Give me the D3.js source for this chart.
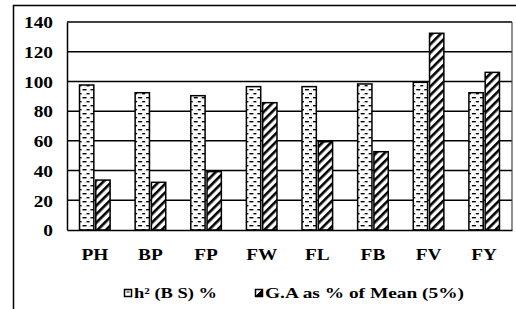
<!DOCTYPE html>
<html>
<head>
<meta charset="utf-8">
<script src="https://cdn.jsdelivr.net/npm/d3@7"></script>
<style>
  body { margin: 0; background: #fff; }
</style>
</head>
<body>
<div id="chart"></div>
<script>
var categories = ["PH", "BP", "FP", "FW", "FL", "FB", "FV", "FY"];
var seriesNames = ["h\u00B2 (B S) %", "G.A as % of Mean (5%)"];
var heritability = [97.6, 92.4, 90.4, 96.5, 96.5, 98.3, 99.4, 92.4];
var geneticAdvance = [33.6, 32.1, 39.3, 85.7, 59.4, 52.7, 132.4, 106.1];
var yTicks = [0, 20, 40, 60, 80, 100, 120, 140];

(function () {
    var width = 516,
        height = 309;
    var margin = {left: 67, right: 4, top: 22, bottom: 79};
    var serif = "'Liberation Serif', 'Times New Roman', serif";
    var stretch = 1.17;

    var svg = d3.select("#chart").append("svg")
        .attr("width", width)
        .attr("height", height);

    var defs = svg.append("defs");

    // dashed horizontal pattern for h2
    var p1 = defs.append("pattern")
        .attr("id", "dashes")
        .attr("patternUnits", "userSpaceOnUse")
        .attr("width", 8).attr("height", 8);
    p1.append("rect").attr("width", 8).attr("height", 8).attr("fill", "#fff");
    p1.append("rect").attr("x", 3).attr("y", 1).attr("width", 4).attr("height", 1.4).attr("fill", "#000");
    p1.append("rect").attr("x", -1).attr("y", 5).attr("width", 3).attr("height", 1.4).attr("fill", "#000");
    p1.append("rect").attr("x", 7).attr("y", 5).attr("width", 1).attr("height", 1.4).attr("fill", "#000");
    p1.append("rect").attr("x", 1).attr("y", 2.5).attr("width", 1).attr("height", 1).attr("fill", "#bbb");
    p1.append("rect").attr("x", 5).attr("y", 6.5).attr("width", 1).attr("height", 1).attr("fill", "#bbb");

    // wide upward diagonal for G.A
    var p2 = defs.append("pattern")
        .attr("id", "diag")
        .attr("patternUnits", "userSpaceOnUse")
        .attr("width", 6).attr("height", 6)
        .attr("patternTransform", "rotate(45)");
    p2.append("rect").attr("width", 6).attr("height", 6).attr("fill", "#fff");
    p2.append("rect").attr("x", 0).attr("y", 0).attr("width", 2.6).attr("height", 6).attr("fill", "#000");

    // outer frame
    svg.append("rect")
        .attr("x", 13.5).attr("y", 5.5)
        .attr("width", 520).attr("height", 320)
        .attr("fill", "none")
        .attr("stroke", "#000")
        .attr("stroke-width", 1.5);

    var x0 = d3.scaleBand()
        .domain(categories)
        .range([margin.left, width - margin.right])
        .paddingInner(0.45)
        .paddingOuter(0.225);

    var x1 = d3.scaleBand()
        .domain([0, 1])
        .range([0, x0.bandwidth()])
        .paddingInner(0.12);

    var y = d3.scaleLinear()
        .domain([0, 140])
        .range([height - margin.bottom, margin.top]);

    // gridlines
    svg.append("g").selectAll("line")
        .data(yTicks.filter(function (d) { return d > 0; }))
        .enter().append("line")
        .attr("x1", margin.left).attr("x2", width - margin.right)
        .attr("y1", function (d) { return y(d); })
        .attr("y2", function (d) { return y(d); })
        .attr("stroke", "#000")
        .attr("stroke-width", 1.5);

    // right border of plot
    svg.append("line")
        .attr("x1", width - margin.right).attr("x2", width - margin.right)
        .attr("y1", y(140)).attr("y2", y(0))
        .attr("stroke", "#444").attr("stroke-width", 1.2);

    var groups = svg.append("g").selectAll("g")
        .data(categories)
        .enter().append("g")
        .attr("transform", function (d) { return "translate(" + x0(d) + ",0)"; });

    var fills = ["url(#dashes)", "url(#diag)"];
    groups.selectAll("rect")
        .data(function (d, i) { return [heritability[i], geneticAdvance[i]]; })
        .enter().append("rect")
        .attr("x", function (d, j) { return x1(j); })
        .attr("width", x1.bandwidth())
        .attr("y", function (d) { return y(d); })
        .attr("height", function (d) { return y(0) - y(d); })
        .attr("fill", function (d, j) { return fills[j]; })
        .attr("stroke", "#000")
        .attr("stroke-width", 1.5);

    // widen the glyphs a little, the original is stretched sideways
    function widen(sel) {
        sel.each(function () {
            var w = this.getComputedTextLength();
            d3.select(this)
                .attr("textLength", w * stretch)
                .attr("lengthAdjust", "spacingAndGlyphs");
        });
    }

    // axes
    var yAxis = svg.append("g")
        .attr("transform", "translate(" + margin.left + ",0)")
        .call(d3.axisLeft(y).tickValues(yTicks).tickSize(0).tickPadding(14));
    yAxis.attr("font-family", null);
    yAxis.select(".domain").attr("stroke", "#000").attr("stroke-width", 1.5);
    yAxis.selectAll("text")
        .style("font-family", serif)
        .style("font-weight", "bold")
        .style("font-size", "16.5px")
        .attr("fill", "#000")
        .attr("dy", "0.35em")
        .call(widen);

    var xAxis = svg.append("g")
        .attr("transform", "translate(0," + y(0) + ")")
        .call(d3.axisBottom(x0).tickSize(0).tickPadding(18));
    xAxis.attr("font-family", null);
    xAxis.select(".domain").attr("stroke", "#000").attr("stroke-width", 1.5);
    xAxis.selectAll("text")
        .style("font-family", serif)
        .style("font-weight", "bold")
        .style("font-size", "16.5px")
        .attr("fill", "#000")
        .call(widen);

    // legend
    var legend = svg.append("g");
    var legendX = [124, 255];
    var legendW = [83, 199];
    legend.selectAll("rect")
        .data(seriesNames)
        .enter().append("rect")
        .attr("x", function (d, i) { return legendX[i] + 0.5; })
        .attr("y", 289.5)
        .attr("width", 7).attr("height", 7)
        .attr("fill", "#fff")
        .attr("stroke", "#000")
        .attr("stroke-width", 1.5);
    legend.selectAll("path")
        .data(seriesNames)
        .enter().append("path")
        .attr("d", function (d, i) {
            var a = legendX[i] + 0.5;
            return i === 0
                ? "M" + (a + 2) + ",292h3"
                : "M" + (a + 7) + ",289.5L" + a + ",296.5L" + (a + 7) + ",296.5Z";
        })
        .attr("stroke", "#000")
        .attr("fill", "#000")
        .attr("stroke-width", 1);
    legend.selectAll("text")
        .data(seriesNames)
        .enter().append("text")
        .attr("x", function (d, i) { return legendX[i] + 10; })
        .attr("y", 298)
        .attr("textLength", function (d, i) { return legendW[i]; })
        .attr("lengthAdjust", "spacingAndGlyphs")
        .style("font-family", serif)
        .style("font-weight", "bold")
        .style("font-size", "15px")
        .text(function (d) { return d; });
})();
</script>
</body>
</html>
